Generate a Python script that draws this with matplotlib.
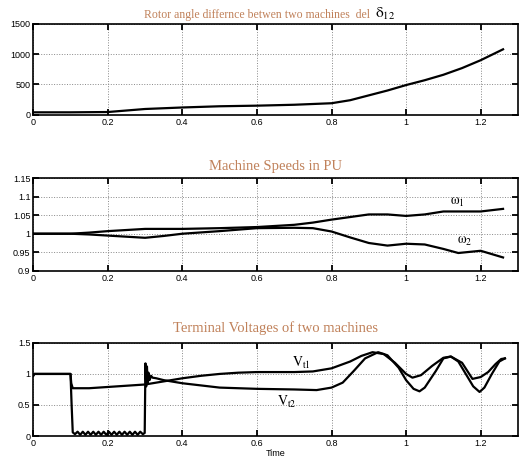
import matplotlib
matplotlib.use('Agg')
import matplotlib.pyplot as plt

plt.rcParams['font.family'] = ['Liberation Sans', 'DejaVu Sans']
plt.rcParams['mathtext.fontset'] = 'stix'

# ---- data ----
t_delta = [0, 0.1, 0.2, 0.25, 0.3, 0.4, 0.5, 0.6, 0.7, 0.8, 0.85, 0.9, 0.95,
           1.0, 1.05, 1.1, 1.15, 1.2, 1.26]
delta12 = [40, 40, 45, 70, 95, 120, 140, 150, 165, 190, 240, 320, 400,
           490, 570, 660, 770, 900, 1080]

t_w1 = [0, 0.1, 0.15, 0.2, 0.3, 0.4, 0.5, 0.6, 0.7, 0.75, 0.8, 0.85, 0.9,
        0.95, 1.0, 1.05, 1.1, 1.15, 1.2, 1.26]
w1 = [1.0, 1.0, 1.003, 1.007, 1.013, 1.013, 1.015, 1.018, 1.024, 1.03, 1.038,
      1.045, 1.052, 1.052, 1.048, 1.052, 1.06, 1.06, 1.06, 1.067]
t_w2 = [0, 0.1, 0.15, 0.2, 0.25, 0.3, 0.35, 0.4, 0.5, 0.6, 0.7, 0.75, 0.8,
        0.85, 0.9, 0.95, 1.0, 1.05, 1.1, 1.14, 1.2, 1.26]
w2 = [1.0, 1.0, 0.998, 0.995, 0.992, 0.989, 0.994, 1.0, 1.007, 1.015, 1.016,
      1.015, 1.006, 0.99, 0.975, 0.968, 0.973, 0.971, 0.959, 0.948, 0.954, 0.936]

t_v1 = [0, 0.003, 0.1, 0.102, 0.106, 0.15, 0.2, 0.25, 0.3, 0.35, 0.4, 0.45,
        0.5, 0.55, 0.6, 0.7, 0.75, 0.8, 0.85, 0.88, 0.91, 0.94, 0.97, 1.0,
        1.017, 1.04, 1.07, 1.1, 1.12, 1.15, 1.178, 1.2, 1.22, 1.24, 1.255, 1.265]
vt1 = [0.97, 1.0, 1.0, 0.85, 0.77, 0.77, 0.79, 0.81, 0.83, 0.88, 0.93, 0.97,
       1.0, 1.02, 1.03, 1.03, 1.04, 1.09, 1.2, 1.29, 1.35, 1.32, 1.18, 1.0,
       0.94, 0.98, 1.13, 1.26, 1.28, 1.18, 0.92, 0.95, 1.03, 1.16, 1.24, 1.25]
t_v2 = [0, 0.003, 0.1, 0.103, 0.106, 0.112, 0.119, 0.126, 0.133, 0.14, 0.147,
        0.154, 0.161, 0.168, 0.175, 0.182, 0.189, 0.196, 0.203, 0.21, 0.217,
        0.224, 0.231, 0.238, 0.245, 0.252, 0.259, 0.266, 0.273, 0.28, 0.287,
        0.294, 0.299, 0.301, 0.303, 0.305, 0.307, 0.309, 0.312, 0.316, 0.32,
        0.33, 0.35, 0.4, 0.5, 0.6, 0.7, 0.76, 0.8, 0.83, 0.86, 0.89, 0.925,
        0.95, 0.98, 1.0, 1.02, 1.036, 1.05, 1.08, 1.1, 1.12, 1.14, 1.16, 1.18,
        1.197, 1.21, 1.23, 1.25, 1.265]
vt2 = [0.97, 1.0, 1.0, 0.5, 0.06, 0.03, 0.07, 0.02, 0.07, 0.02, 0.07, 0.02,
       0.07, 0.02, 0.07, 0.02, 0.07, 0.02, 0.07, 0.02, 0.07, 0.02, 0.07, 0.02,
       0.07, 0.02, 0.07, 0.02, 0.07, 0.02, 0.07, 0.03, 0.05, 1.17, 0.8, 1.12,
       0.85, 1.02, 0.9, 0.97, 0.94, 0.93, 0.9, 0.85, 0.78, 0.76, 0.75, 0.74,
       0.78, 0.86, 1.05, 1.25, 1.35, 1.3, 1.1, 0.9, 0.76, 0.72, 0.78, 1.05,
       1.25, 1.28, 1.2, 1.0, 0.8, 0.71, 0.78, 1.0, 1.2, 1.25]

x_ticks = [0, 0.2, 0.4, 0.6, 0.8, 1.0, 1.2]
x_labels = ['0', '0.2', '0.4', '0.6', '0.8', '1', '1.2']
y1_ticks, y1_labels = [0, 500, 1000, 1500], ['0', '500', '1000', '1500']
y2_ticks = [0.9, 0.95, 1.0, 1.05, 1.1, 1.15]
y2_labels = ['0.9', '0.95', '1', '1.05', '1.1', '1.15']
y3_ticks, y3_labels = [0, 0.5, 1.0, 1.5], ['0', '0.5', '1', '1.5']

title_col = '#c0815a'
serif = ['Liberation Serif', 'DejaVu Serif']

fig = plt.figure(figsize=(5.19, 4.59), dpi=100)
left, width = 0.064, 0.934
ax1 = fig.add_axes([left, 0.750, width, 0.198])
ax2 = fig.add_axes([left, 0.410, width, 0.202])
ax3 = fig.add_axes([left, 0.050, width, 0.203])


def style(ax, yt, yl, ylim):
    ax.set_xlim(0, 1.3)
    ax.set_ylim(*ylim)
    ax.set_xticks(x_ticks)
    ax.set_xticklabels(x_labels)
    ax.set_yticks(yt)
    ax.set_yticklabels(yl)
    ax.tick_params(direction='in', top=True, right=True, length=4, width=1.3,
                   labelsize=6.5, pad=2)
    ax.grid(True, ls=':', color='#888888', lw=0.7)
    for s in ax.spines.values():
        s.set_linewidth(1.2)


ax1.plot(t_delta, delta12, color='black', lw=1.6)
style(ax1, y1_ticks, y1_labels, (0, 1500))
ax1.text(0.70, 1.03, 'Rotor angle differnce betwen two machines  del ',
         transform=ax1.transAxes, ha='right', va='bottom', fontsize=8.5,
         color=title_col, family=serif)
ax1.text(0.705, 1.02, r'$\mathrm{\delta_{12}}$', transform=ax1.transAxes,
         ha='left', va='bottom', fontsize=11, color='black')

ax2.plot(t_w1, w1, color='black', lw=1.6)
ax2.plot(t_w2, w2, color='black', lw=1.6)
style(ax2, y2_ticks, y2_labels, (0.9, 1.15))
ax2.set_title('Machine Speeds in PU', fontsize=10.5, color=title_col,
              family=serif, pad=6)
ax2.text(1.138, 1.085, r'$\mathrm{\omega_1}$', fontsize=10,
         ha='center', va='center')
ax2.text(1.157, 0.98, r'$\mathrm{\omega_2}$', fontsize=10,
         ha='center', va='center')

ax3.plot(t_v1, vt1, color='black', lw=1.6)
ax3.plot(t_v2, vt2, color='black', lw=1.6)
style(ax3, y3_ticks, y3_labels, (0, 1.5))
ax3.set_title('Terminal Voltages of two machines', fontsize=10.5,
              color=title_col, family=serif, pad=8)
ax3.text(0.72, 1.18, r'$\mathrm{V_{t1}}$', fontsize=10, ha='center', va='center')
ax3.text(0.68, 0.55, r'$\mathrm{V_{t2}}$', fontsize=10, ha='center', va='center')
ax3.set_xlabel('Time', fontsize=6.5, labelpad=1)

fig.savefig('out.png', dpi=100)
